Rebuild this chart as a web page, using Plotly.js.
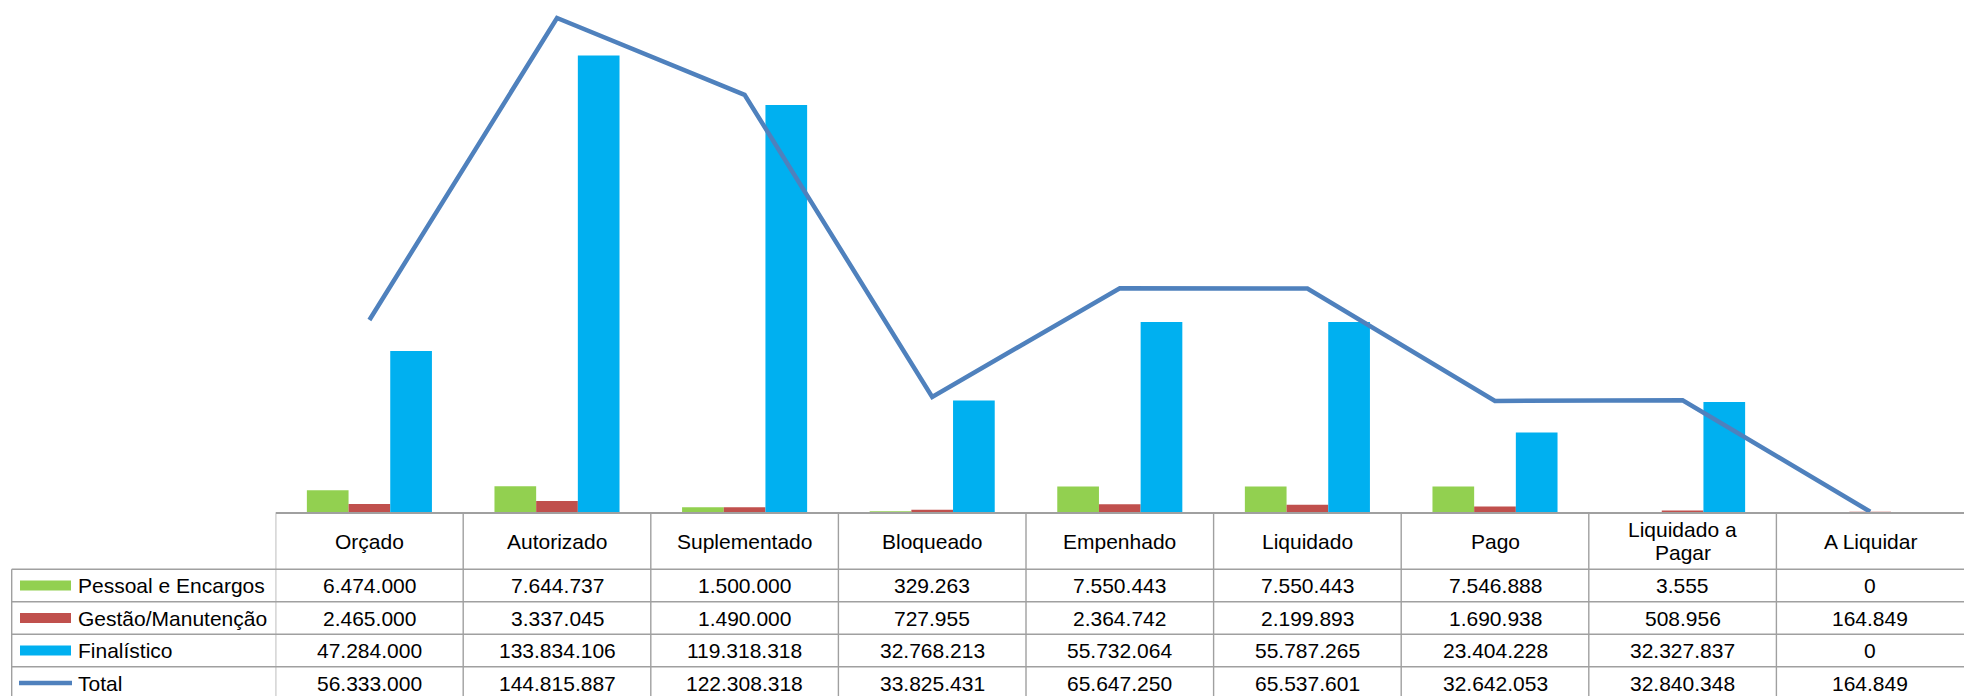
<!DOCTYPE html>
<html>
<head>
<meta charset="utf-8">
<script src="https://cdn.plot.ly/plotly-3.0.1.min.js"></script>
<style>
  html, body { margin: 0; padding: 0; background: #ffffff; }
  #chart { width: 1964px; height: 696px; }
</style>
</head>
<body>
<div id="chart"></div>
<script>
// ---------- data ----------
const categories = ['Orçado', 'Autorizado', 'Suplementado', 'Bloqueado', 'Empenhado', 'Liquidado', 'Pago', 'Liquidado a Pagar', 'A Liquidar'];
const headerLines = [['Orçado'], ['Autorizado'], ['Suplementado'], ['Bloqueado'], ['Empenhado'], ['Liquidado'], ['Pago'], ['Liquidado a', 'Pagar'], ['A Liquidar']];
const seriesNames = ['Pessoal e Encargos', 'Gestão/Manutenção', 'Finalístico', 'Total'];
const pessoal = [6474000, 7644737, 1500000, 329263, 7550443, 7550443, 7546888, 3555, 0];
const gestao = [2465000, 3337045, 1490000, 727955, 2364742, 2199893, 1690938, 508956, 164849];
const finalistico = [47284000, 133834106, 119318318, 32768213, 55732064, 55787265, 23404228, 32327837, 0];
const total = [56333000, 144815887, 122308318, 33825431, 65647250, 65537601, 32642053, 32840348, 164849];
const seriesColors = ['#92d050', '#c0504d', '#00b0f0', '#4f81bd'];

// ---------- geometry (pixels in a 1964 x 696 figure) ----------
const W = 1964, H = 696;
const plotLeft = 275.6, axisY = 512.3;
const tableLeft = 11.7;
const rowLines = [569.3, 601.7, 634.3, 666.7];
const rowCenters = [585.5, 618, 650.5, 683];
const headerCenter = 541;
const gridColor = '#a0a0a0';
const textFont = { family: 'Liberation Sans, Arial, sans-serif', size: 21, color: '#000000' };

const px = x => x / W;
const py = y => (H - y) / H;
const fmt = n => String(n).replace(/\B(?=(\d{3})+(?!\d))/g, '.');

const values = [pessoal, gestao, finalistico, total];

// ---------- traces ----------
const traces = [];
for (let s = 0; s < 3; s++) {
  traces.push({
    type: 'bar', name: seriesNames[s], x: categories, y: values[s],
    marker: { color: seriesColors[s] }, hoverinfo: 'skip'
  });
}
traces.push({
  type: 'scatter', mode: 'lines', name: seriesNames[3], x: categories, y: total,
  line: { color: seriesColors[3], width: 4.5 }, hoverinfo: 'skip'
});

// ---------- table ----------
const shapes = [];
const annotations = [];

// horizontal row lines
rowLines.forEach(y => {
  shapes.push({ type: 'line', xref: 'paper', yref: 'paper', x0: px(tableLeft), x1: 1, y0: py(y), y1: py(y),
    line: { color: gridColor, width: 1.4 } });
});
// vertical column lines (category boundaries on the x axis)
for (let i = 0; i < categories.length; i++) {
  shapes.push({ type: 'line', xref: 'x', yref: 'paper', x0: i - 0.5, x1: i - 0.5, y0: py(axisY), y1: 0,
    line: { color: gridColor, width: 1.4 } });
}
// legend column left border
shapes.push({ type: 'line', xref: 'paper', yref: 'paper', x0: px(tableLeft), x1: px(tableLeft), y0: py(rowLines[0]), y1: 0,
  line: { color: gridColor, width: 1.4 } });

// legend keys
for (let s = 0; s < 3; s++) {
  const c = rowCenters[s];
  shapes.push({ type: 'rect', xref: 'paper', yref: 'paper', x0: px(20), x1: px(71), y0: py(c + 5), y1: py(c - 5),
    fillcolor: seriesColors[s], line: { width: 0 } });
}
shapes.push({ type: 'line', xref: 'paper', yref: 'paper', x0: px(19), x1: px(72), y0: py(rowCenters[3]), y1: py(rowCenters[3]),
  line: { color: seriesColors[3], width: 4.5 } });

// legend labels
seriesNames.forEach((name, s) => {
  annotations.push({ xref: 'paper', yref: 'paper', x: px(76), y: py(rowCenters[s]), text: name,
    xanchor: 'left', yanchor: 'middle', showarrow: false, font: textFont });
});

// header labels
headerLines.forEach((lines, i) => {
  const step = 22.4;
  const start = headerCenter - (lines.length - 1) * step / 2;
  lines.forEach((t, k) => {
    annotations.push({ xref: 'x', yref: 'paper', x: i, y: py(start + k * step), text: t,
      xanchor: 'center', yanchor: 'middle', showarrow: false, font: textFont });
  });
});

// cell values
values.forEach((arr, s) => {
  arr.forEach((v, i) => {
    annotations.push({ xref: 'x', yref: 'paper', x: i, y: py(rowCenters[s]), text: fmt(v),
      xanchor: 'center', yanchor: 'middle', showarrow: false, font: textFont });
  });
});

const layout = {
  width: W, height: H,
  margin: { l: 0, r: 0, t: 0, b: 0, pad: 0 },
  paper_bgcolor: '#ffffff', plot_bgcolor: '#ffffff',
  showlegend: false,
  barmode: 'group', bargap: 1 / 3, bargroupgap: 0,
  xaxis: {
    domain: [px(plotLeft), 1], type: 'category', range: [-0.5, categories.length - 0.5],
    showticklabels: false, ticks: '', showgrid: false, zeroline: false,
    showline: true, linecolor: gridColor, linewidth: 1.4, fixedrange: true
  },
  yaxis: {
    domain: [py(axisY), py(0.3)], range: [0, 150000000],
    showticklabels: false, ticks: '', showgrid: false, zeroline: false, showline: false, fixedrange: true
  },
  shapes: shapes,
  annotations: annotations,
  font: textFont
};

Plotly.newPlot('chart', traces, layout, { staticPlot: true, displayModeBar: false });
</script>
</body>
</html>
